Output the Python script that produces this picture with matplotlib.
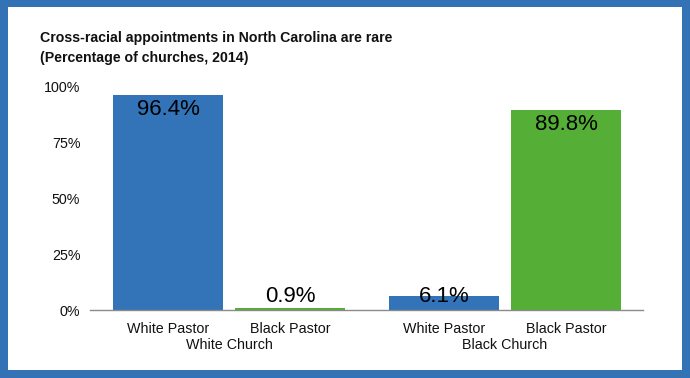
import matplotlib
matplotlib.use("Agg")
import matplotlib.pyplot as plt
from matplotlib.patches import Rectangle

plt.rcParams['font.family'] = ['Liberation Sans', 'DejaVu Sans']

title = "Cross-racial appointments in North Carolina are rare\n(Percentage of churches, 2014)"
groups = ["White Church", "Black Church"]
pastors = ["White Pastor", "Black Pastor"]
white_church = [96.4, 0.9]
black_church = [6.1, 89.8]
yticks = [0, 25, 50, 75, 100]
ytick_labels = ["0%", "25%", "50%", "75%", "100%"]

BLUE = "#3373B8"
GREEN = "#55AE35"
BORDER = "#3472B6"

W, H = 690, 378
fig = plt.figure(figsize=(W / 100, H / 100), dpi=100)
fig.patch.set_facecolor(BORDER)
fig.patches.append(Rectangle((8 / W, 8 / H), (682 - 8) / W, (371 - 8) / H,
                             transform=fig.transFigure, facecolor="white",
                             edgecolor="none", zorder=-10))

ax = fig.add_axes([90 / W, 1 - 310 / H, (643 - 90) / W, (310 - 87) / H])
ax.set_facecolor("none")
ax.set_zorder(5)

positions = [0, 1.109, 2.509, 3.618]
values = white_church + black_church
colors = [BLUE, GREEN, BLUE, GREEN]
bars = ax.bar(positions, values, width=1.0, color=colors, zorder=2)

for b, v in zip(bars, values):
    cx = b.get_x() + b.get_width() / 2
    if v > 20:
        ax.annotate(f"{v:.1f}%", (cx, v), xytext=(0, -3), textcoords="offset points",
                    ha="center", va="top", fontsize=16)
    else:
        ax.annotate(f"{v:.1f}%", (cx, 0), xytext=(0, 2), textcoords="offset points",
                    ha="center", va="bottom", fontsize=16, zorder=3)

ax.set_xlim(-0.709, 4.318)
ax.set_ylim(0, 100)
ax.set_yticks(yticks)
ax.set_yticklabels(ytick_labels)
ax.set_xticks(positions)
ax.set_xticklabels(pastors * 2)
ax.tick_params(axis="both", length=0, labelsize=10.3, colors="#111111")
ax.tick_params(axis="y", pad=7)
ax.tick_params(axis="x", pad=8.5)
for s in ["top", "right", "left"]:
    ax.spines[s].set_visible(False)
ax.spines["bottom"].set_color("#8a8a8a")
ax.spines["bottom"].set_linewidth(1)

group_centers = [(positions[0] + positions[1]) / 2, (positions[2] + positions[3]) / 2]
for gx, g in zip(group_centers, groups):
    ax.annotate(g, (gx, 0), xycoords=("data", "axes fraction"), xytext=(0, -25.5),
                textcoords="offset points", ha="center", va="center", fontsize=10.3,
                color="#111111")

fig.text(40 / W, 1 - 31 / H, title, ha="left", va="top", fontsize=10.2,
         fontweight="bold", linespacing=1.55, color="#111111", zorder=5)

fig.savefig("out.png", dpi=100, facecolor=fig.get_facecolor())
